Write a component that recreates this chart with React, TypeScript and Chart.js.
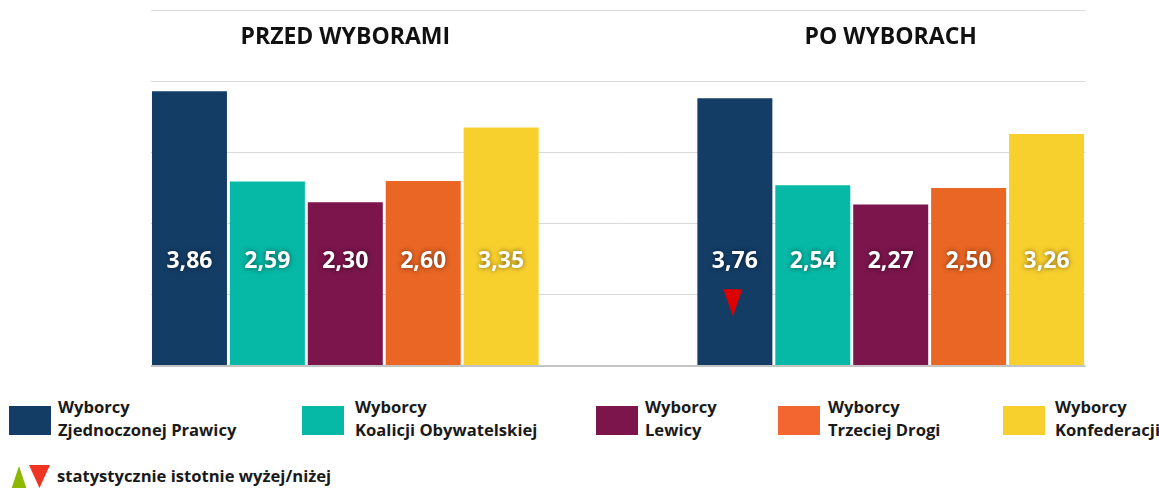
import React, { useEffect, useRef } from 'react';
import { Chart, registerables } from 'chart.js';

Chart.register(...registerables);

const groupTitles = ['PRZED WYBORAMI', 'PO WYBORACH'];
const partyLine1 = ['Wyborcy', 'Wyborcy', 'Wyborcy', 'Wyborcy', 'Wyborcy'];
const partyLine2 = ['Zjednoczonej Prawicy', 'Koalicji Obywatelskiej', 'Lewicy', 'Trzeciej Drogi', 'Konfederacji'];
const przedValues = [3.86, 2.59, 2.3, 2.6, 3.35];
const poValues = [3.76, 2.54, 2.27, 2.5, 3.26];
const przedSignificance = ['', '', '', '', ''];
const poSignificance = ['down', '', '', '', ''];
const yTickValues = [0, 1, 2, 3, 4, 5];
const significanceLegend = 'statystycznie istotnie wyżej/niżej';

const barColors = ['#143D66', '#06B8A6', '#7B154C', '#E96624', '#F8D02E'];
const legendColors = ['#143D66', '#06B8A6', '#7B154C', '#F4662F', '#F8D02E'];
const legendSquareX = [9, 302, 596, 778, 1003];
const legendTextX = [58, 355, 645, 828, 1055];

const GAP = 2;
const N = przedValues.length;
const SLOTS = N * 2 + GAP;
const LABEL_VALUE = 1.47;
const FONT = '"Open Sans", "Noto Sans", sans-serif';

const fmt = (v: number) => v.toFixed(2).replace('.', ',');

const overlayPlugin = {
  id: 'overlay',
  afterDatasetsDraw(chart: any) {
    const ctx = chart.ctx;
    const area = chart.chartArea;
    const ys = chart.scales.y;
    const labelY = ys.getPixelForValue(LABEL_VALUE);
    chart.data.datasets.forEach((ds: any, di: number) => {
      const meta = chart.getDatasetMeta(di);
      ds.data.forEach((v: number | null, j: number) => {
        if (v == null) return;
        const el = meta.data[j];
        ctx.save();
        ctx.font = `bold 23px ${FONT}`;
        ctx.textAlign = 'center';
        ctx.textBaseline = 'middle';
        ctx.shadowColor = 'rgba(0,0,0,0.55)';
        ctx.shadowBlur = 5;
        ctx.fillStyle = '#ffffff';
        ctx.fillText(fmt(v), el.x, labelY);
        ctx.restore();
        const sig = j < N ? przedSignificance[di] : poSignificance[di];
        if (sig) {
          const cx = el.x - 2;
          const t = labelY + 28;
          ctx.save();
          ctx.beginPath();
          if (sig === 'down') {
            ctx.fillStyle = '#DD0000';
            ctx.moveTo(cx - 9.5, t);
            ctx.lineTo(cx + 9.5, t);
            ctx.lineTo(cx, t + 27);
          } else {
            ctx.fillStyle = '#8DB800';
            ctx.moveTo(cx - 9.5, t + 27);
            ctx.lineTo(cx + 9.5, t + 27);
            ctx.lineTo(cx, t);
          }
          ctx.closePath();
          ctx.fill();
          ctx.restore();
        }
      });
    });
    const m0 = chart.getDatasetMeta(0);
    const mL = chart.getDatasetMeta(N - 1);
    groupTitles.forEach((title, gi) => {
      const start = gi * (N + GAP);
      const x0 = m0.data[start].x;
      const x1 = mL.data[start + N - 1].x;
      ctx.save();
      ctx.font = `bold 23px ${FONT}`;
      ctx.textAlign = 'center';
      ctx.textBaseline = 'middle';
      ctx.fillStyle = '#111111';
      ctx.fillText(title, (x0 + x1) / 2, area.top + 27.5);
      ctx.restore();
    });
  },
};

function ChartCanvas() {
  const ref = useRef<HTMLCanvasElement>(null);
  useEffect(() => {
    if (!ref.current) return;
    const labels = Array.from({ length: SLOTS }, (_, i) => String(i));
    const datasets = przedValues.map((pv, i) => {
      const data: (number | null)[] = Array(SLOTS).fill(null);
      data[i] = pv;
      data[N + GAP + i] = poValues[i];
      return {
        label: partyLine1[i] + ' ' + partyLine2[i],
        data,
        backgroundColor: barColors[i],
        grouped: false,
        barPercentage: 0.9625,
        categoryPercentage: 1,
      };
    });
    const chart = new Chart(ref.current, {
      type: 'bar',
      data: { labels, datasets },
      options: {
        animation: false,
        responsive: false,
        maintainAspectRatio: false,
        layout: { padding: { left: 150.5, right: 73.5, top: 10, bottom: 24 } },
        plugins: { legend: { display: false }, tooltip: { enabled: false } },
        scales: {
          x: { display: false },
          y: {
            min: yTickValues[0],
            max: yTickValues[yTickValues.length - 1],
            afterBuildTicks: (axis: any) => {
              axis.ticks = yTickValues.map((v) => ({ value: v }));
            },
            ticks: { display: false },
            border: { display: false },
            grid: {
              drawTicks: false,
              color: (c: any) => (c.tick && c.tick.value === 0 ? '#c4c4c4' : '#dadada'),
              lineWidth: (c: any) => (c.tick && c.tick.value === 0 ? 2 : 1),
            },
          },
        },
      },
      plugins: [overlayPlugin],
    });
    return () => chart.destroy();
  }, []);
  return (
    <canvas
      ref={ref}
      width={1159}
      height={390}
      style={{ position: 'absolute', left: 0, top: 0, width: 1159, height: 390, display: 'block' }}
    />
  );
}

export default function App() {
  const textStyle: React.CSSProperties = {
    position: 'absolute',
    fontFamily: FONT,
    fontWeight: 700,
    fontSize: 16.6,
    lineHeight: '23px',
    color: '#1a1a1a',
    whiteSpace: 'nowrap',
  };
  return (
    <div
      style={{
        position: 'absolute',
        left: 0,
        top: 0,
        width: 1159,
        height: 488,
        background: '#ffffff',
        overflow: 'hidden',
      }}
    >
      <ChartCanvas />
      {partyLine2.map((p, i) => (
        <React.Fragment key={i}>
          <div
            style={{
              position: 'absolute',
              left: legendSquareX[i],
              top: 406,
              width: 42,
              height: 29,
              background: legendColors[i],
            }}
          />
          <div style={{ ...textStyle, left: legendTextX[i], top: 395 }}>
            {partyLine1[i]}
            <br />
            {p}
          </div>
        </React.Fragment>
      ))}
      <div
        style={{
          position: 'absolute',
          left: 11,
          top: 466,
          width: 16,
          height: 24,
          background: '#8DB800',
          clipPath: 'polygon(50% 0, 100% 100%, 0 100%)',
        }}
      />
      <div
        style={{
          position: 'absolute',
          left: 29,
          top: 465,
          width: 21,
          height: 23,
          background: '#EE3524',
          clipPath: 'polygon(0 0, 100% 0, 50% 100%)',
        }}
      />
      <div style={{ ...textStyle, left: 57, top: 464 }}>{significanceLegend}</div>
    </div>
  );
}
